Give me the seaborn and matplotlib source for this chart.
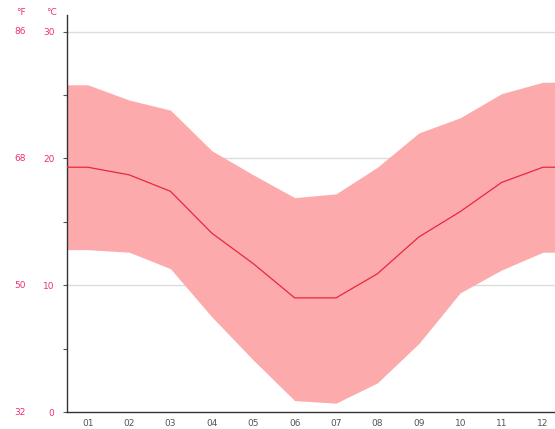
import numpy as np
import pandas as pd
import seaborn as sns
import matplotlib.pyplot as plt

# --- Data (monthly temperatures, °C) ---
months = ["01", "02", "03", "04", "05", "06", "07", "08", "09", "10", "11", "12"]
t_mean = [19.3, 18.7, 17.4, 14.1, 11.7, 9.0, 9.0, 10.9, 13.8, 15.8, 18.1, 19.3]
t_max = [25.8, 24.6, 23.8, 20.6, 18.7, 16.9, 17.2, 19.3, 22.0, 23.2, 25.1, 26.0]
t_min = [12.8, 12.6, 11.3, 7.5, 4.1, 0.9, 0.7, 2.3, 5.4, 9.4, 11.2, 12.6]

c_ticks = [0, 10, 20, 30]
f_labels = ["32", "50", "68", "86"]

df = pd.DataFrame({"month": np.arange(1, 13), "mean": t_mean,
                   "max": t_max, "min": t_min})

# extend band/line to the plot edges using the first/last month values
x_ext = np.r_[0.5, df["month"], 12.5]
lo_ext = np.r_[df["min"].iloc[0], df["min"], df["min"].iloc[-1]]
hi_ext = np.r_[df["max"].iloc[0], df["max"], df["max"].iloc[-1]]
line_df = pd.DataFrame({"x": x_ext,
                        "y": np.r_[df["mean"].iloc[0], df["mean"], df["mean"].iloc[-1]]})

sns.set_style("white")
plt.rcParams["font.family"] = ["DejaVu Sans"]

red_txt = "#f0306a"
fig = plt.figure(figsize=(5.55, 4.29), dpi=100)
ax = fig.add_axes([0.1207, 0.0396, 0.895, 0.9254])

ax.fill_between(x_ext, lo_ext, hi_ext, color="#fcaaab", linewidth=0, zorder=2)
sns.lineplot(data=line_df, x="x", y="y", ax=ax, color="#e8283c", linewidth=0.9, zorder=3)

ax.set_xlim(0.5, 12.5)
ax.set_ylim(0, 31.3)

for c in c_ticks[1:]:
    ax.axhline(c, color="#dcdcdc", linewidth=1.0, zorder=1)

ax.set_xticks(np.arange(1, 13))
ax.set_xticklabels(months)
ax.set_xticks(np.arange(1.5, 12.5, 1), minor=True)
ax.tick_params(axis="x", which="major", length=0, labelsize=6.5, colors="#555555", pad=5)
ax.tick_params(axis="x", which="minor", length=3, width=0.8, color="#555555", direction="out")

ax.set_yticks(c_ticks)
ax.set_yticklabels([str(c) for c in c_ticks])
ax.set_yticks([5, 15, 25], minor=True)
ax.tick_params(axis="y", which="both", length=3, width=0.8, color="#555555",
               labelsize=6.5, labelcolor=red_txt, pad=6, left=True)

# Fahrenheit column (offsets in pixels)
for c, f in zip(c_ticks, f_labels):
    ax.annotate(f, xy=(0, c), xycoords=("axes fraction", "data"),
                xytext=(-47, 0), textcoords="offset pixels",
                ha="center", va="center", fontsize=6.5, color=red_txt)

ax.annotate("°F", xy=(0, 1), xycoords="axes fraction", xytext=(-46, 3),
            textcoords="offset pixels", ha="center", va="center", fontsize=6.5, color=red_txt)
ax.annotate("°C", xy=(0, 1), xycoords="axes fraction", xytext=(-15, 3),
            textcoords="offset pixels", ha="center", va="center", fontsize=6.5, color=red_txt)

ax.set_xlabel("")
ax.set_ylabel("")
for s in ["top", "right"]:
    ax.spines[s].set_visible(False)
ax.spines["left"].set_color("#333333")
ax.spines["bottom"].set_color("#333333")
ax.spines["left"].set_linewidth(1.0)
ax.spines["bottom"].set_linewidth(1.0)

fig.savefig("out.png", dpi=100)
